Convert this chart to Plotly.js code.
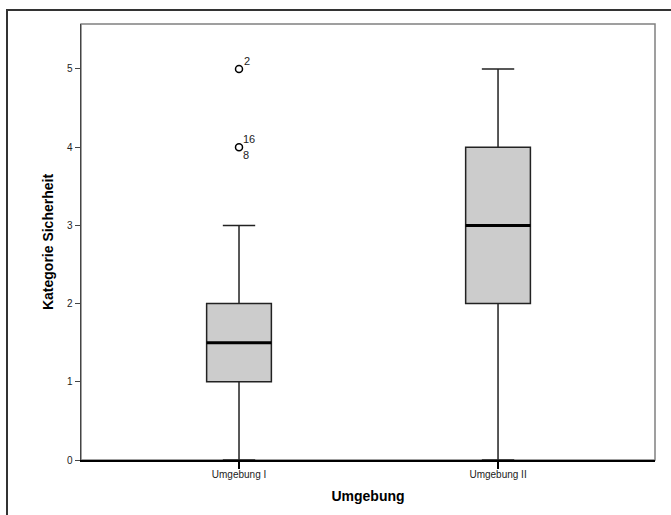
<!DOCTYPE html>
<html>
<head>
<meta charset="utf-8">
<script src="https://cdn.plot.ly/plotly-3.0.1.min.js"></script>
<style>
  html, body { margin: 0; padding: 0; background: #fff; }
  #wrap { position: relative; width: 671px; height: 515px; }
  #frame { position: absolute; left: 6px; top: 9px; width: 700px; height: 600px;
           border-left: 2px solid #333; border-top: 2px solid #333; pointer-events: none; z-index: 5; }
  #chart { position: absolute; left: 0; top: 0; width: 671px; height: 515px; }
</style>
</head>
<body>
<div id="wrap">
  <div id="chart"></div>
  <div id="frame"></div>
</div>
<script>
// Data
const categories = ["Umgebung I", "Umgebung II"];
const positions = [0, 1];
const q1 = [1, 2];
const median = [1.5, 3];
const q3 = [2, 4];
const lowerFence = [0, 0];
const upperFence = [3, 5];
// Outliers (group index, value, case label)
const outlierGroup = [0, 0];
const outlierValue = [5, 4];
const outlierLabels = [["2"], ["16", "8"]];

const boxWidth = 0.25;
const font = "Liberation Sans, Arial, sans-serif";

const traces = [];
traces.push({
  type: "box",
  x: positions,
  q1: q1, median: median, q3: q3,
  lowerfence: lowerFence, upperfence: upperFence,
  width: boxWidth,
  whiskerwidth: 0.5,
  fillcolor: "#cccccc",
  line: { color: "#222222", width: 1.5 },
  boxpoints: false,
  hoverinfo: "skip",
  showlegend: false
});
// Thicker median lines
positions.forEach((p, i) => {
  traces.push({
    type: "scatter", mode: "lines",
    x: [p - boxWidth / 2, p + boxWidth / 2],
    y: [median[i], median[i]],
    line: { color: "#000", width: 3 },
    hoverinfo: "skip", showlegend: false
  });
});
// Outlier markers
traces.push({
  type: "scatter", mode: "markers",
  x: outlierGroup.map(g => positions[g]),
  y: outlierValue,
  marker: { symbol: "circle-open", size: 7, color: "#000", line: { width: 1.5, color: "#000" } },
  hoverinfo: "skip", showlegend: false
});

// Outlier labels as annotations
const annotations = [];
outlierValue.forEach((v, i) => {
  const labels = outlierLabels[i];
  const x = positions[outlierGroup[i]];
  if (labels.length === 1) {
    annotations.push({ x: x, y: v, text: labels[0], showarrow: false, xanchor: "left", yanchor: "bottom",
      xshift: 3, yshift: 0, font: { family: font, size: 11, color: "#222" } });
  } else {
    annotations.push({ x: x, y: v, text: labels[0], showarrow: false, xanchor: "left", yanchor: "bottom",
      xshift: 2, yshift: 0, font: { family: font, size: 11, color: "#222" } });
    annotations.push({ x: x, y: v, text: labels[1], showarrow: false, xanchor: "left", yanchor: "top",
      xshift: 2, yshift: 0, font: { family: font, size: 11, color: "#222" } });
  }
});

const layout = {
  width: 671, height: 515,
  margin: { l: 81, r: 16, t: 24, b: 55, pad: 0 },
  paper_bgcolor: "#fff", plot_bgcolor: "#fff",
  showlegend: false,
  font: { family: font, color: "#222" },
  xaxis: {
    range: [-0.61, 1.606],
    tickvals: positions, ticktext: categories,
    ticks: "outside", ticklen: 7, tickwidth: 2, tickcolor: "#000",
    ticklabelstandoff: -3,
    showline: true, linecolor: "#000", linewidth: 1.5,
    showgrid: false, zeroline: false,
    tickfont: { family: font, size: 10, color: "#222" },
    title: { text: "<b>Umgebung</b>", font: { family: font, size: 14, color: "#000" }, standoff: 12 }
  },
  yaxis: {
    range: [0, 5.575],
    tickvals: [0, 1, 2, 3, 4, 5],
    ticks: "outside", ticklen: 5, tickwidth: 1, tickcolor: "#444",
    showline: true, linecolor: "#444", linewidth: 1.5,
    showgrid: false, zeroline: false,
    tickfont: { family: font, size: 10, color: "#222" },
    title: { text: "<b>Kategorie Sicherheit</b>", font: { family: font, size: 14, color: "#000" }, standoff: 10 }
  },
  shapes: [{
    type: "rect", xref: "paper", yref: "paper", x0: 0, x1: 1, y0: 0, y1: 1,
    line: { color: "#808080", width: 1.5 }, layer: "below"
  }],
  annotations: annotations
};

Plotly.newPlot("chart", traces, layout, { displayModeBar: false, staticPlot: true });
</script>
</body>
</html>
